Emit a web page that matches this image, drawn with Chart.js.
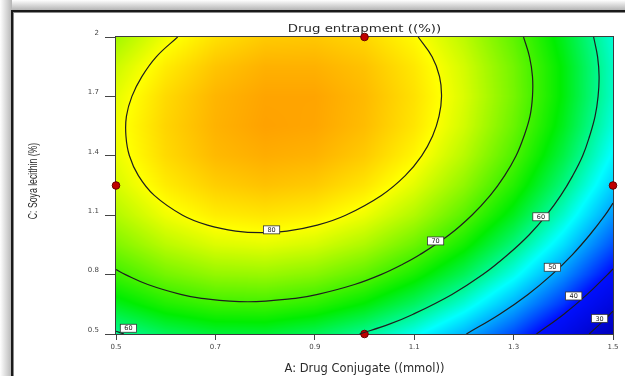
<!DOCTYPE html>
<html lang="en">
<head>
    <meta charset="UTF-8">
    <title>Drug entrapment</title>
    <script src="https://cdn.jsdelivr.net/npm/chart.js"></script>
    <style>
        body { margin: 0; background: #fff; }
        #grafico { display: block; }
    </style>
</head>
<body>
    <canvas id="grafico" width="625" height="376"></canvas>

    <script>
        // titles
        const chartTitle = 'Drug entrapment ((%))';
        const xTitle = 'A: Drug Conjugate ((mmol))';
        const yTitle = 'C: Soya lecithin (%)';

        // ticks
        const xTickValues = [0.5, 0.7, 0.9, 1.1, 1.3, 1.5];
        const xTickLabels = ['0.5', '0.7', '0.9', '1.1', '1.3', '1.5'];
        const yTickValues = [0.5, 0.8, 1.1, 1.4, 1.7, 2.0];
        const yTickLabels = ['0.5', '0.8', '1.1', '1.4', '1.7', '2'];

        // response surface (rows = soya lecithin, cols = drug conjugate)
        const gridX = [0.5, 0.6, 0.7, 0.8, 0.9, 1.0, 1.1, 1.2, 1.3, 1.4, 1.5];
        const gridY = [0.5, 0.65, 0.8, 0.95, 1.1, 1.25, 1.4, 1.55, 1.7, 1.85, 2.0];
        const gridValues = [
            [59.5, 62.2, 63.6, 63.7, 62.3, 59.7, 55.7, 50.3, 43.6, 35.0, 24.0],
            [64.8, 67.7, 69.3, 69.5, 68.3, 65.8, 61.9, 56.7, 50.1, 42.2, 32.0],
            [69.3, 72.4, 74.1, 74.4, 73.4, 71.1, 67.3, 62.3, 55.9, 48.1, 38.9],
            [73.0, 76.2, 78.1, 78.6, 77.7, 75.5, 71.9, 67.0, 60.7, 53.1, 44.1],
            [75.8, 79.2, 81.2, 81.8, 81.1, 79.1, 75.7, 70.9, 64.8, 57.3, 48.5],
            [77.8, 81.3, 83.4, 84.3, 83.7, 81.8, 78.5, 73.9, 68.0, 60.6, 52.0],
            [78.9, 82.6, 84.9, 85.8, 85.4, 83.7, 80.6, 76.1, 70.3, 63.1, 54.6],
            [79.2, 83.0, 85.4, 86.6, 86.3, 84.7, 81.8, 77.5, 71.8, 64.8, 56.4],
            [78.6, 82.6, 85.2, 86.4, 86.4, 84.9, 82.1, 78.0, 72.5, 65.6, 57.4],
            [77.2, 81.3, 84.1, 85.5, 85.5, 84.3, 81.6, 77.6, 72.3, 65.6, 57.5],
            [74.9, 79.2, 82.1, 83.7, 83.9, 82.8, 80.3, 76.4, 71.2, 64.7, 56.8]
        ];

        // colour scale
        const colorStopValues = [25, 40, 55, 66, 80, 98];
        const colorStopColors = ['#0000c0', '#0010ff', '#00ffff', '#00ee00', '#ffff00', '#ff0000'];

        // contour lines [drug conjugate, soya lecithin]
        const contour80 = [[0.624, 2.0], [0.581, 1.9], [0.552, 1.8], [0.532, 1.7], [0.521, 1.6], [0.520, 1.5],
            [0.527, 1.4], [0.545, 1.3], [0.577, 1.2], [0.634, 1.1], [0.684, 1.05], [0.741, 1.02], [0.792, 1.012],
            [0.844, 1.02], [0.905, 1.05], [0.962, 1.1], [1.034, 1.2], [1.082, 1.3], [1.115, 1.4], [1.137, 1.5],
            [1.150, 1.6], [1.155, 1.7], [1.151, 1.8], [1.136, 1.9], [1.108, 2.0]];
        const contour70 = [[0.5, 0.825], [0.519, 0.8], [0.564, 0.75], [0.630, 0.70], [0.672, 0.68], [0.765, 0.663],
            [0.861, 0.68], [0.906, 0.70], [0.980, 0.75], [1.033, 0.8], [1.075, 0.85], [1.111, 0.9], [1.170, 1.0],
            [1.216, 1.1], [1.253, 1.2], [1.282, 1.3], [1.305, 1.4], [1.321, 1.5], [1.333, 1.6], [1.338, 1.7],
            [1.338, 1.8], [1.332, 1.9], [1.320, 2.0]];
        const contour60 = [[0.990, 0.5], [1.050, 0.55], [1.098, 0.6], [1.176, 0.7], [1.238, 0.8], [1.288, 0.9],
            [1.331, 1.0], [1.366, 1.1], [1.395, 1.2], [1.419, 1.3], [1.439, 1.4], [1.453, 1.5], [1.464, 1.6],
            [1.470, 1.7], [1.472, 1.8], [1.469, 1.9], [1.461, 2.0]];
        const contour60corner = [[0.5, 0.514], [0.516, 0.5]];
        const contour50 = [[1.205, 0.5], [1.272, 0.6], [1.329, 0.7], [1.377, 0.8], [1.418, 0.9], [1.453, 1.0],
            [1.484, 1.1], [1.5, 1.161]];
        const contour40 = [[1.346, 0.5], [1.401, 0.6], [1.448, 0.7], [1.489, 0.8], [1.5, 0.829]];
        const contour30 = [[1.452, 0.5], [1.478, 0.56], [1.5, 0.615]];

        // contour labels
        const labelText = ['80', '70', '60', '50', '40', '30', '60'];
        const labelX = [0.813, 1.143, 1.355, 1.378, 1.421, 1.473, 0.525];
        const labelY = [1.026, 0.97, 1.092, 0.837, 0.692, 0.579, 0.529];

        // design points
        const designX = [0.5, 1.0, 1.5, 1.0];
        const designY = [1.25, 2.0, 1.25, 0.5];

        function findCell(arr, v) {
            for (let i = 0; i < arr.length - 2; i++) {
                if (v <= arr[i + 1]) return i;
            }
            return arr.length - 2;
        }

        function gridValue(xv, yv) {
            const i = findCell(gridX, xv);
            const j = findCell(gridY, yv);
            let tx = (xv - gridX[i]) / (gridX[i + 1] - gridX[i]);
            let ty = (yv - gridY[j]) / (gridY[j + 1] - gridY[j]);
            tx = Math.max(0, Math.min(1, tx));
            ty = Math.max(0, Math.min(1, ty));
            const a = gridValues[j][i] * (1 - tx) + gridValues[j][i + 1] * tx;
            const b = gridValues[j + 1][i] * (1 - tx) + gridValues[j + 1][i + 1] * tx;
            return a * (1 - ty) + b * ty;
        }

        const stopRgb = colorStopColors.map(h => [1, 3, 5].map(k => parseInt(h.substr(k, 2), 16)));

        function colorFor(v) {
            if (v <= colorStopValues[0]) return stopRgb[0];
            for (let k = 0; k < colorStopValues.length - 1; k++) {
                if (v <= colorStopValues[k + 1]) {
                    const t = (v - colorStopValues[k]) / (colorStopValues[k + 1] - colorStopValues[k]);
                    return stopRgb[k].map((c, n) => Math.round(c + (stopRgb[k + 1][n] - c) * t));
                }
            }
            return stopRgb[stopRgb.length - 1];
        }

        // page frame with a soft shadow, chart title, y title
        const cornice = {
            id: 'cornice',
            beforeDraw(chart) {
                const ctx = chart.ctx;
                ctx.save();
                let g = ctx.createLinearGradient(0, 0, 0, 10);
                g.addColorStop(0, '#ffffff');
                g.addColorStop(1, '#b5b5b5');
                ctx.fillStyle = g;
                ctx.fillRect(0, 0, chart.width, 10);
                g = ctx.createLinearGradient(0, 0, 12, 0);
                g.addColorStop(0, '#ffffff');
                g.addColorStop(1, '#b5b5b5');
                ctx.fillStyle = g;
                ctx.fillRect(0, 0, 12, chart.height);
                ctx.fillStyle = '#1a1a1a';
                ctx.fillRect(11, 10, chart.width - 11, 2);
                ctx.fillRect(11, 10, 2, chart.height - 10);
                ctx.fillStyle = '#8a8a8a';
                ctx.fillRect(13, 12, chart.width - 13, 1);
                ctx.fillRect(13, 12, 1, chart.height - 12);
                ctx.restore();
            },
            afterDraw(chart) {
                const {ctx, chartArea} = chart;
                ctx.save();
                ctx.font = '10.5px "DejaVu Sans"';
                ctx.fillStyle = '#2a2a2a';
                ctx.textAlign = 'center';
                ctx.textBaseline = 'middle';
                ctx.translate((chartArea.left + chartArea.right) / 2, 29);
                ctx.scale(1.27, 1);
                ctx.fillText(chartTitle, 0, 0);
                ctx.restore();

                ctx.save();
                ctx.font = '13px "Liberation Sans"';
                ctx.fillStyle = '#2a2a2a';
                ctx.textAlign = 'center';
                ctx.textBaseline = 'middle';
                ctx.translate(33, 181);
                ctx.rotate(-Math.PI / 2);
                ctx.scale(0.67, 1);
                ctx.fillText(yTitle, 0, 0);
                ctx.restore();
            }
        };

        // coloured surface + plot frame + contour labels
        const heatmap = {
            id: 'heatmap',
            beforeDatasetsDraw(chart) {
                const {ctx, chartArea: a, scales: {x, y}} = chart;
                const left = Math.round(a.left), top = Math.round(a.top);
                const w = Math.round(a.right) - left, h = Math.round(a.bottom) - top;
                const img = ctx.createImageData(w, h);
                for (let j = 0; j < h; j++) {
                    const yv = y.getValueForPixel(top + j + 0.5);
                    for (let i = 0; i < w; i++) {
                        const xv = x.getValueForPixel(left + i + 0.5);
                        const c = colorFor(gridValue(xv, yv));
                        const k = (j * w + i) * 4;
                        img.data[k] = c[0];
                        img.data[k + 1] = c[1];
                        img.data[k + 2] = c[2];
                        img.data[k + 3] = 255;
                    }
                }
                ctx.putImageData(img, left, top);
                ctx.save();
                ctx.strokeStyle = '#3c3c3c';
                ctx.lineWidth = 1;
                ctx.strokeRect(left - 0.5, top - 0.5, w + 1, h + 1);
                ctx.restore();
            },
            afterDatasetsDraw(chart) {
                const {ctx, scales: {x, y}} = chart;
                ctx.save();
                ctx.font = '6.5px "DejaVu Sans"';
                ctx.textAlign = 'center';
                ctx.textBaseline = 'middle';
                labelText.forEach((t, n) => {
                    const px = x.getPixelForValue(labelX[n]);
                    const py = y.getPixelForValue(labelY[n]);
                    const bw = ctx.measureText(t).width + 8;
                    const bh = 8;
                    ctx.fillStyle = '#ffffff';
                    ctx.fillRect(px - bw / 2, py - bh / 2, bw, bh);
                    ctx.strokeStyle = '#333';
                    ctx.lineWidth = 0.8;
                    ctx.strokeRect(px - bw / 2, py - bh / 2, bw, bh);
                    ctx.fillStyle = '#222';
                    ctx.fillText(t, px, py + 0.5);
                });
                ctx.restore();
            }
        };

        const toPoints = arr => arr.map(p => ({x: p[0], y: p[1]}));
        const linea = arr => ({
            data: toPoints(arr),
            showLine: true,
            borderColor: '#1e1e1e',
            borderWidth: 1.2,
            pointRadius: 0,
            tension: 0.4,
            fill: false
        });

        const canvas = document.getElementById('grafico').getContext('2d');

        const grafico = new Chart(canvas, {
            type: 'scatter',
            data: {
                datasets: [
                    linea(contour80),
                    linea(contour70),
                    linea(contour60),
                    linea(contour60corner),
                    linea(contour50),
                    linea(contour40),
                    linea(contour30),
                    {
                        data: designX.map((v, i) => ({x: v, y: designY[i]})),
                        pointRadius: 3.8,
                        pointBackgroundColor: '#c00000',
                        pointBorderColor: '#6a0000',
                        pointBorderWidth: 1,
                        showLine: false,
                        clip: false
                    }
                ]
            },
            options: {
                responsive: false,
                animation: false,
                devicePixelRatio: 1,
                layout: {padding: {left: 14, right: 12, top: 37, bottom: 0}},
                plugins: {legend: {display: false}, tooltip: {enabled: false}},
                scales: {
                    x: {
                        type: 'linear',
                        min: 0.5,
                        max: 1.5,
                        afterBuildTicks: s => { s.ticks = xTickValues.map(v => ({value: v})); },
                        afterFit: s => { s.height = 42; },
                        ticks: {
                            callback: (v, i) => xTickLabels[i],
                            font: {family: 'DejaVu Sans', size: 7},
                            color: '#444',
                            padding: 3,
                            maxRotation: 0
                        },
                        grid: {drawOnChartArea: false, drawTicks: true, tickLength: 6, color: '#444'},
                        border: {display: false},
                        title: {
                            display: true,
                            text: xTitle,
                            font: {family: 'DejaVu Sans', size: 11.5},
                            color: '#2a2a2a',
                            padding: {top: 0, bottom: 0}
                        }
                    },
                    y: {
                        type: 'linear',
                        min: 0.5,
                        max: 2.0,
                        afterBuildTicks: s => { s.ticks = yTickValues.map(v => ({value: v})); },
                        afterFit: s => { s.width = 102; },
                        ticks: {
                            callback: (v, i) => yTickLabels[i],
                            font: {family: 'DejaVu Sans', size: 7},
                            color: '#444',
                            padding: 6,
                            labelOffset: -4
                        },
                        grid: {drawOnChartArea: false, drawTicks: true, tickLength: 11, color: '#444'},
                        border: {display: false}
                    }
                }
            },
            plugins: [cornice, heatmap]
        });
    </script>
</body>
</html>
